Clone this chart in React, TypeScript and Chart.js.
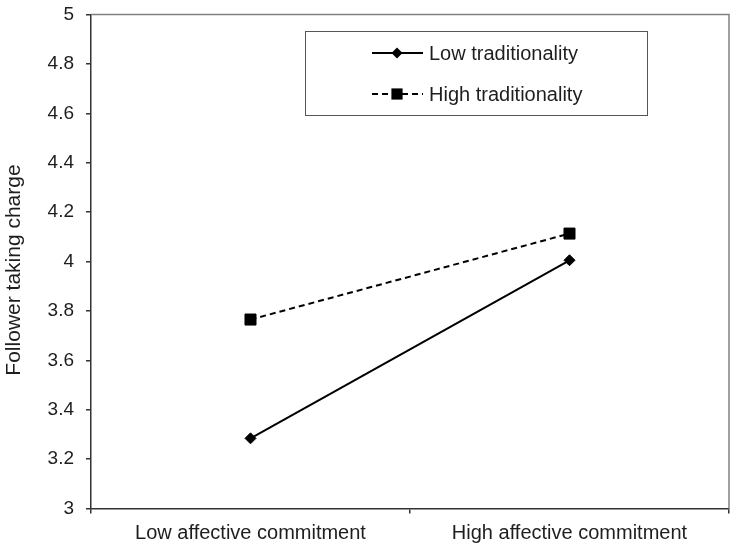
import React, { useEffect, useRef } from 'react';
import { Chart, registerables } from 'chart.js';

Chart.register(...registerables);

const categories = ['Low affective commitment', 'High affective commitment'];
const seriesLabels = ['Low traditionality', 'High traditionality'];
const lowTraditionality = [3.284, 4.005];
const highTraditionality = [3.765, 4.113];
const yTitle = 'Follower taking charge';
const yMin = 3;
const yMax = 5;
const yStep = 0.2;

const FONT = '"Liberation Sans", Arial, sans-serif';
const TEXT = '#1e1e1e';

function drawMarker(ctx: CanvasRenderingContext2D, style: string, x: number, y: number) {
  ctx.beginPath();
  if (style === 'rectRot') {
    const r = 5.5;
    ctx.moveTo(x - r, y);
    ctx.lineTo(x, y - r);
    ctx.lineTo(x + r, y);
    ctx.lineTo(x, y + r);
    ctx.closePath();
  } else {
    const h = 5.6;
    ctx.rect(x - h, y - h, 2 * h, 2 * h);
  }
  ctx.fillStyle = '#000';
  ctx.fill();
}

const decorPlugin = {
  id: 'decor',
  afterDraw(chart: any) {
    const { ctx, chartArea: a } = chart;
    ctx.save();
    // top and right frame lines
    ctx.strokeStyle = '#808080';
    ctx.lineWidth = 1.5;
    ctx.setLineDash([]);
    ctx.beginPath();
    ctx.moveTo(a.left, a.top);
    ctx.lineTo(a.right, a.top);
    ctx.lineTo(a.right, a.bottom);
    ctx.stroke();

    // legend box
    const bx = 305, by = 31, bw = 342, bh = 84;
    ctx.strokeStyle = '#555';
    ctx.lineWidth = 1;
    ctx.strokeRect(bx + 0.5, by + 0.5, bw, bh);
    const rows = [53, 94];
    chart.data.datasets.forEach((ds: any, i: number) => {
      const y = rows[i];
      ctx.strokeStyle = '#000';
      ctx.lineWidth = 1.8;
      ctx.setLineDash(ds.borderDash || []);
      ctx.beginPath();
      ctx.moveTo(372, y);
      ctx.lineTo(423, y);
      ctx.stroke();
      ctx.setLineDash([]);
      drawMarker(ctx, ds.pointStyle, 397, y);
      ctx.fillStyle = TEXT;
      ctx.font = `20px ${FONT}`;
      ctx.textAlign = 'left';
      ctx.textBaseline = 'middle';
      ctx.fillText(ds.label, 429, y + 1);
    });

    // y axis title
    ctx.save();
    ctx.translate(14, 270);
    ctx.rotate(-Math.PI / 2);
    ctx.fillStyle = TEXT;
    ctx.font = `21px ${FONT}`;
    ctx.textAlign = 'center';
    ctx.textBaseline = 'middle';
    ctx.fillText(yTitle, 0, 0);
    ctx.restore();

    ctx.restore();
  },
};

export default function App() {
  const ref = useRef<HTMLCanvasElement | null>(null);

  useEffect(() => {
    if (!ref.current) return;
    const chart = new Chart(ref.current, {
      type: 'line',
      data: {
        labels: categories,
        datasets: [
          {
            label: seriesLabels[0],
            data: lowTraditionality,
            borderColor: '#000',
            backgroundColor: '#000',
            borderWidth: 2,
            pointStyle: 'rectRot',
            pointRadius: 5.5,
            pointBorderWidth: 1,
            pointBackgroundColor: '#000',
            pointBorderColor: '#000',
            tension: 0,
          },
          {
            label: seriesLabels[1],
            data: highTraditionality,
            borderColor: '#000',
            backgroundColor: '#000',
            borderWidth: 2,
            borderDash: [6, 4],
            pointStyle: 'rect',
            pointRadius: 7.8,
            pointBorderWidth: 1,
            pointBackgroundColor: '#000',
            pointBorderColor: '#000',
            tension: 0,
          },
        ],
      },
      options: {
        responsive: false,
        animation: false,
        layout: { autoPadding: false, padding: { top: 14.5, right: 6, left: 0, bottom: 0 } },
        plugins: {
          legend: { display: false },
          tooltip: { enabled: false },
        },
        scales: {
          x: {
            type: 'category',
            offset: true,
            grid: {
              offset: true,
              drawOnChartArea: false,
              drawTicks: true,
              tickLength: 5,
              color: '#333',
              lineWidth: 1.5,
            },
            border: { display: true, color: '#333', width: 1.5 },
            ticks: {
              color: TEXT,
              font: { family: FONT, size: 20 },
              padding: 8,
              maxRotation: 0,
              autoSkip: false,
            },
            afterFit: (scale: any) => {
              scale.height = 41.5;
              scale.paddingLeft = 0;
              scale.paddingRight = 0;
            },
          },
          y: {
            min: yMin,
            max: yMax,
            grid: {
              drawOnChartArea: false,
              drawTicks: true,
              tickLength: 5,
              color: '#333',
              lineWidth: 1.5,
            },
            border: { display: true, color: '#333', width: 1.5 },
            ticks: {
              stepSize: yStep,
              color: TEXT,
              font: { family: FONT, size: 19 },
              padding: 12,
              callback: (v: any) => String(Number(Number(v).toFixed(1))),
            },
            afterFit: (scale: any) => {
              scale.width = 91;
              scale.paddingTop = 0;
              scale.paddingBottom = 0;
            },
          },
        },
      },
      plugins: [decorPlugin],
    });
    return () => chart.destroy();
  }, []);

  return (
    <div style={{ position: 'absolute', left: 0, top: 0, width: 735, height: 550, background: '#fff' }}>
      <canvas ref={ref} width={735} height={550} style={{ display: 'block' }} />
    </div>
  );
}
